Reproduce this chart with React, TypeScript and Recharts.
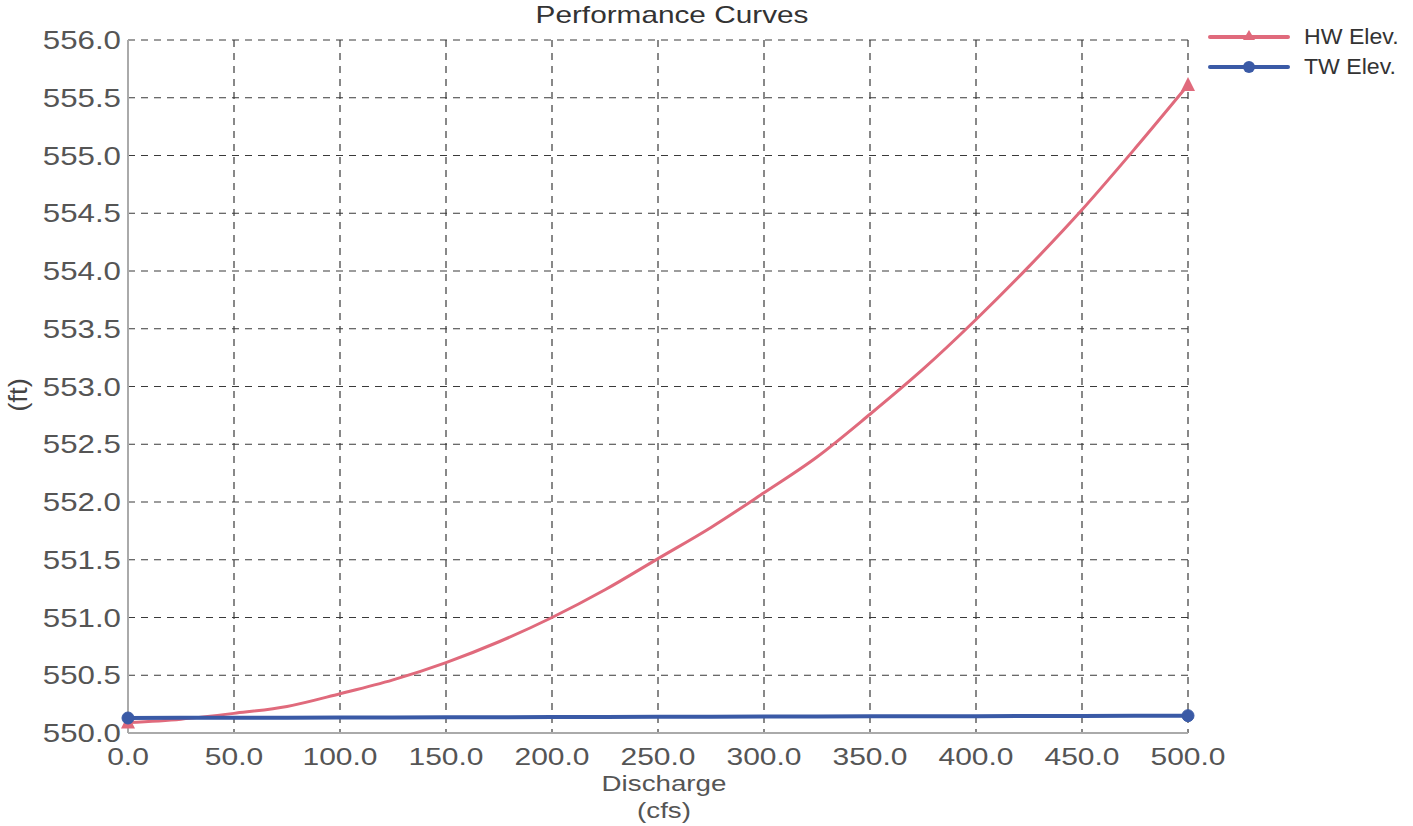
import React from "react";
import { LineChart, Line, XAxis, YAxis, CartesianGrid } from "recharts";

const discharge = [0, 25, 50, 75, 100, 125, 150, 175, 200, 225, 250, 275, 300, 325, 350, 375, 400, 425, 450, 475, 500];
const hwElev = [550.09, 550.12, 550.17, 550.23, 550.34, 550.46, 550.61, 550.79, 551.0, 551.24, 551.51, 551.78, 552.08, 552.39, 552.76, 553.15, 553.58, 554.04, 554.53, 555.06, 555.61];
const twElev = [550.13, 550.131, 550.132, 550.133, 550.134, 550.135, 550.136, 550.137, 550.138, 550.139, 550.14, 550.141, 550.142, 550.143, 550.144, 550.145, 550.146, 550.147, 550.148, 550.149, 550.15];
const xTicks = [0, 50, 100, 150, 200, 250, 300, 350, 400, 450, 500];
const yTicks = [550, 550.5, 551, 551.5, 552, 552.5, 553, 553.5, 554, 554.5, 555, 555.5, 556];
const seriesNames = ["HW Elev.", "TW Elev."];

const data = discharge.map((q, i) => ({ q, hw: hwElev[i], tw: twElev[i] }));

const HW_COLOR = "#e06a7c";
const TW_COLOR = "#3a5aa6";
const FONT = "'Liberation Sans', Arial, sans-serif";

const YTick = (props: any) => {
  const { x, y, payload } = props;
  return (
    <g transform={`translate(${x},${y}) scale(1.25,1)`}>
      <text x={0} y={0} dy={9} textAnchor="end" fill="#555" fontSize={25} fontFamily={FONT}>
        {Number(payload.value).toFixed(1)}
      </text>
    </g>
  );
};

const XTick = (props: any) => {
  const { x, y, payload } = props;
  return (
    <g transform={`translate(${x},${y}) scale(1.25,1)`}>
      <text x={0} y={0} dy={20} textAnchor="middle" fill="#555" fontSize={24} fontFamily={FONT}>
        {Number(payload.value).toFixed(1)}
      </text>
    </g>
  );
};

const makeDot = (kind: "tri" | "circle", color: string) => (props: any) => {
  const { cx, cy, index } = props;
  if (index !== 0 && index !== data.length - 1) return <g key={`d${index}`} />;
  if (kind === "circle") {
    return <circle key={`d${index}`} cx={cx} cy={cy} r={6} fill={color} stroke={color} />;
  }
  return (
    <polygon
      key={`d${index}`}
      points={`${cx},${cy - 8} ${cx - 7},${cy + 6} ${cx + 7},${cy + 6}`}
      fill={color}
    />
  );
};

const legendItems = [
  { name: seriesNames[0], color: HW_COLOR, kind: "tri" },
  { name: seriesNames[1], color: TW_COLOR, kind: "circle" },
];

export default function App() {
  return (
    <div style={{ position: "absolute", left: 0, top: 0, width: 1413, height: 826, background: "#fff", fontFamily: FONT }}>
      <div
        style={{
          position: "absolute",
          left: 672,
          top: 1,
          transform: "translateX(-50%) scaleX(1.24)",
          fontSize: 24,
          color: "#333",
          whiteSpace: "nowrap",
        }}
      >
        Performance Curves
      </div>
      <div
        style={{
          position: "absolute",
          left: 664,
          top: 770,
          transform: "translateX(-50%) scaleX(1.26)",
          fontSize: 22,
          color: "#555",
          textAlign: "center",
          lineHeight: "27px",
          whiteSpace: "nowrap",
        }}
      >
        Discharge
        <br />
        (cfs)
      </div>
      <div
        style={{
          position: "absolute",
          left: 18,
          top: 395,
          transform: "translate(-50%,-50%) rotate(-90deg) scaleX(1.1)",
          fontSize: 25,
          color: "#444",
          whiteSpace: "nowrap",
        }}
      >
        (ft)
      </div>
      <div style={{ position: "absolute", left: 1208, top: 22, zIndex: 2 }}>
        {legendItems.map((p, i) => (
          <div key={i} style={{ display: "flex", alignItems: "center", height: 30 }}>
            <svg width={82} height={20} style={{ marginRight: 14 }}>
              <line x1={2} y1={10} x2={80} y2={10} stroke={p.color} strokeWidth={4} strokeLinecap="round" />
              {p.kind === "tri" ? (
                <polygon points="41,3 35,13 47,13" fill={p.color} />
              ) : (
                <circle cx={41} cy={10} r={6} fill={p.color} />
              )}
            </svg>
            <span style={{ fontSize: 22, color: "#333", display: "inline-block", transform: "scaleX(1.05)", transformOrigin: "left" }}>
              {p.name}
            </span>
          </div>
        ))}
      </div>
      <LineChart width={1413} height={826} data={data} margin={{ top: 40, right: 225, bottom: 0, left: 0 }}>
        <CartesianGrid stroke="#3a3a3a" strokeDasharray="7 6" strokeWidth={1.2} />
        <XAxis
          dataKey="q"
          type="number"
          domain={[0, 500]}
          ticks={xTicks}
          height={93}
          tickSize={0}
          tickMargin={12}
          tick={<XTick />}
          axisLine={{ stroke: "#aaa", strokeWidth: 2 }}
          tickLine={false}
          interval={0}
        />
        <YAxis
          type="number"
          domain={[550, 556]}
          ticks={yTicks}
          width={128}
          tickSize={0}
          tickMargin={7}
          tick={<YTick />}
          axisLine={{ stroke: "#aaa", strokeWidth: 2 }}
          tickLine={false}
          interval={0}
        />
        <Line
          dataKey="hw"
          name={seriesNames[0]}
          stroke={HW_COLOR}
          strokeWidth={3}
          dot={makeDot("tri", HW_COLOR)}
          activeDot={false}
          isAnimationActive={false}
          type="monotone"
        />
        <Line
          dataKey="tw"
          name={seriesNames[1]}
          stroke={TW_COLOR}
          strokeWidth={4}
          dot={makeDot("circle", TW_COLOR)}
          activeDot={false}
          isAnimationActive={false}
          type="linear"
        />
      </LineChart>
    </div>
  );
}
